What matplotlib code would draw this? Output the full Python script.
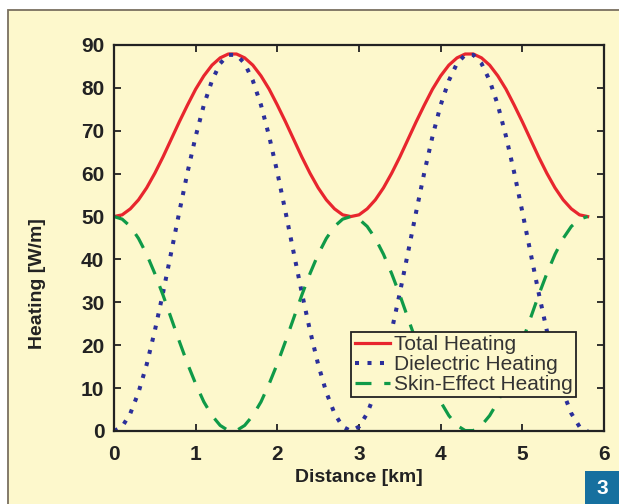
import numpy as np
import matplotlib.pyplot as plt
from matplotlib.patches import Rectangle

# distance along the cable [km], 0.1 km steps
distance = [round(0.1 * i, 1) for i in range(59)]

# one half-period (0 .. 2.9 km), the curve repeats after 2.9 km
diel_half = [0, 1.0, 4.1, 9.0, 15.5, 23.4, 32.2, 41.6, 51.1, 60.3, 68.7, 76.0, 81.7, 85.7, 87.7,
             87.7, 85.7, 81.7, 76.0, 68.7, 60.3, 51.1, 41.6, 32.2, 23.4, 15.5, 9.0, 4.1, 1.0]
skin_half = [50, 49.4, 47.7, 44.9, 41.2, 36.7, 31.7, 26.3, 20.9, 15.7, 11.0, 6.8, 3.6, 1.3, 0.1,
             0.1, 1.3, 3.6, 6.8, 11.0, 15.7, 20.9, 26.3, 31.7, 36.7, 41.2, 44.9, 47.7, 49.4]
total_half = [50, 50.4, 51.8, 53.9, 56.7, 60.1, 63.9, 68.0, 72.1, 76.0, 79.7, 82.8, 85.3, 87.0, 87.9,
              87.9, 87.0, 85.3, 82.8, 79.7, 76.0, 72.1, 68.0, 63.9, 60.1, 56.7, 53.9, 51.8, 50.4]

dielectric = diel_half + diel_half + [0]
skin = skin_half + skin_half + [50]
total = total_half + total_half + [50]

labels = ["Total Heating", "Dielectric Heating", "Skin-Effect Heating"]
xticks = [0, 1, 2, 3, 4, 5, 6]
yticks = [0, 10, 20, 30, 40, 50, 60, 70, 80, 90]

bg = '#fdf8cc'
ink = '#222222'
plt.rcParams['font.family'] = ['Liberation Sans', 'DejaVu Sans']

fig = plt.figure(figsize=(6.19, 5.04), dpi=100)
fig.patch.set_facecolor('white')
# beige panel with thin frame
fig.patches.append(Rectangle((8 / 619, -0.05), 1.1, 1 - 10 / 504 + 0.05, transform=fig.transFigure,
                             facecolor=bg, edgecolor='#7a7060', linewidth=1.3, zorder=-5))
# figure number box
fig.patches.append(Rectangle((585 / 619, 0), 34 / 619, 33 / 504, transform=fig.transFigure,
                             facecolor='#16709f', edgecolor='none', zorder=1))
fig.text(602 / 619, 16 / 504, "3", color='white', fontsize=15, fontweight='bold',
         ha='center', va='center')

ax = fig.add_axes([114 / 619, 73 / 504, 490 / 619, 386 / 504])
ax.set_facecolor(bg)
ax.set_zorder(2)

ax.plot(distance, total, color='#e8262e', lw=2.3, label=labels[0])
ax.plot(distance, dielectric, color='#2b2f9a', lw=2.9, linestyle=(0, (1, 2.1)), label=labels[1])
ax.plot(distance, skin, color='#0f9a48', lw=2.3, linestyle=(0, (5, 4)), label=labels[2])

ax.set_xlim(0, 6)
ax.set_ylim(0, 90)
ax.set_xticks(xticks)
ax.set_yticks(yticks)
ax.tick_params(direction='in', length=5, width=1.3, top=True, right=True,
               labelsize=15, colors=ink)
ax.tick_params(axis='x', pad=10)
ax.tick_params(axis='y', pad=7)
for t in ax.get_xticklabels() + ax.get_yticklabels():
    t.set_fontweight('bold')
for s in ax.spines.values():
    s.set_linewidth(1.6)
    s.set_color(ink)

ax.set_xlabel("Distance [km]", fontsize=14, fontweight='bold', color=ink, labelpad=4)
ax.set_ylabel("Heating [W/m]", fontsize=14, fontweight='bold', color=ink, va='center')
ax.yaxis.set_label_coords(-0.157, 0.383)

leg = ax.legend(loc='lower right', bbox_to_anchor=(0.943, 0.088), fontsize=15, frameon=True,
                fancybox=False, facecolor=bg, edgecolor=ink, framealpha=1,
                labelspacing=0.05, borderpad=0.15, handlelength=1.7, handletextpad=0.2,
                borderaxespad=0)
leg.get_frame().set_linewidth(1.3)
for t in leg.get_texts():
    t.set_color('#333333')

fig.savefig("out.png", dpi=100, facecolor=fig.get_facecolor())
